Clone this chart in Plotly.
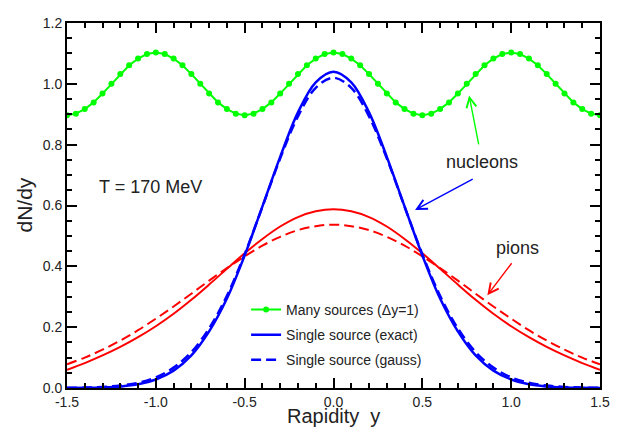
import plotly.graph_objects as go

# ---------------- data ----------------
# rapidity grid of the "many sources" curve (step 0.05)
y_many = [-1.50, -1.45, -1.40, -1.35, -1.30, -1.25, -1.20, -1.15, -1.10, -1.05,
          -1.00, -0.95, -0.90, -0.85, -0.80, -0.75, -0.70, -0.65, -0.60, -0.55,
          -0.50, -0.45, -0.40, -0.35, -0.30, -0.25, -0.20, -0.15, -0.10, -0.05,
          0.00, 0.05, 0.10, 0.15, 0.20, 0.25, 0.30, 0.35, 0.40, 0.45,
          0.50, 0.55, 0.60, 0.65, 0.70, 0.75, 0.80, 0.85, 0.90, 0.95,
          1.00, 1.05, 1.10, 1.15, 1.20, 1.25, 1.30, 1.35, 1.40, 1.45, 1.50]
dndy_many = [0.897, 0.902, 0.917, 0.939, 0.968, 1.000, 1.032, 1.061, 1.083, 1.098,
             1.103, 1.098, 1.083, 1.061, 1.032, 1.000, 0.968, 0.939, 0.917, 0.902,
             0.897, 0.902, 0.917, 0.939, 0.968, 1.000, 1.032, 1.061, 1.083, 1.098,
             1.103, 1.098, 1.083, 1.061, 1.032, 1.000, 0.968, 0.939, 0.917, 0.902,
             0.897, 0.902, 0.917, 0.939, 0.968, 1.000, 1.032, 1.061, 1.083, 1.098,
             1.103, 1.098, 1.083, 1.061, 1.032, 1.000, 0.968, 0.939, 0.917, 0.902, 0.897]

# rapidity grid of the single-source curves (step 0.1)
y_single = [-1.5, -1.4, -1.3, -1.2, -1.1, -1.0, -0.9, -0.8, -0.7, -0.6, -0.5, -0.4, -0.3, -0.2, -0.1,
            0.0, 0.1, 0.2, 0.3, 0.4, 0.5, 0.6, 0.7, 0.8, 0.9, 1.0, 1.1, 1.2, 1.3, 1.4, 1.5]

# nucleons, single source
nucl_exact = [0.0002, 0.0007, 0.002, 0.005, 0.012, 0.028, 0.057, 0.107, 0.186, 0.294, 0.436, 0.597, 0.760, 0.906, 1.005,
              1.040, 1.005, 0.906, 0.760, 0.597, 0.436, 0.294, 0.186, 0.107, 0.057, 0.028, 0.012, 0.005, 0.002, 0.0007, 0.0002]
nucl_gauss = [0.0005, 0.0013, 0.0034, 0.008, 0.017, 0.035, 0.067, 0.118, 0.196, 0.303, 0.440, 0.596, 0.755, 0.893, 0.987,
              1.020, 0.987, 0.893, 0.755, 0.596, 0.440, 0.303, 0.196, 0.118, 0.067, 0.035, 0.017, 0.008, 0.0034, 0.0013, 0.0005]

# pions, single source
pion_exact = [0.060, 0.082, 0.107, 0.135, 0.167, 0.203, 0.244, 0.290, 0.340, 0.392, 0.443, 0.490, 0.531, 0.562, 0.581,
              0.588, 0.581, 0.562, 0.531, 0.490, 0.443, 0.392, 0.340, 0.290, 0.244, 0.203, 0.167, 0.135, 0.107, 0.082, 0.060]
pion_gauss = [0.078, 0.100, 0.126, 0.156, 0.190, 0.228, 0.268, 0.310, 0.353, 0.394, 0.433, 0.468, 0.497, 0.519, 0.532,
              0.537, 0.532, 0.519, 0.497, 0.468, 0.433, 0.394, 0.353, 0.310, 0.268, 0.228, 0.190, 0.156, 0.126, 0.100, 0.078]

x_tickvals = [-1.5, -1.0, -0.5, 0.0, 0.5, 1.0, 1.5]
x_ticktext = ["-1.5", "-1.0", "-0.5", "0.0", "0.5", "1.0", "1.5"]
y_tickvals = [0.0, 0.2, 0.4, 0.6, 0.8, 1.0, 1.2]
y_ticktext = ["0.0", "0.2", "0.4", "0.6", "0.8", "1.0", "1.2"]

legend_names = ["Many sources (\u0394y=1)", "Single source (exact)", "Single source (gauss)"]

# ---------------- styling ----------------
FONT = "Liberation Sans, Arial, Helvetica, sans-serif"
GREEN = "#00ff00"
BLUE = "#0000ff"
RED = "#ff0000"
TXT = "#222222"

fig = go.Figure()

fig.add_trace(go.Scatter(
    x=y_many, y=dndy_many, mode="lines+markers", name=legend_names[0],
    line=dict(color=GREEN, width=2), marker=dict(color=GREEN, size=6),
    legendgroup="g1"))
fig.add_trace(go.Scatter(
    x=y_single, y=pion_exact, mode="lines", line=dict(color=RED, width=2, shape="spline"),
    showlegend=False))
fig.add_trace(go.Scatter(
    x=y_single, y=pion_gauss, mode="lines", line=dict(color=RED, width=2, shape="spline", dash="10px,5px"),
    showlegend=False))
fig.add_trace(go.Scatter(
    x=y_single, y=nucl_exact, mode="lines", name=legend_names[1],
    line=dict(color=BLUE, width=2.5, shape="spline"), legendgroup="g2"))
fig.add_trace(go.Scatter(
    x=y_single, y=nucl_gauss, mode="lines", name=legend_names[2],
    line=dict(color=BLUE, width=2.5, shape="spline", dash="10px,5px"), legendgroup="g3"))

axis_common = dict(
    showline=True, linecolor="black", linewidth=2, mirror="ticks",
    ticks="inside", ticklen=10, tickwidth=1.5, tickcolor="black",
    showgrid=False, zeroline=False, ticklabeloverflow="allow",
    tickfont=dict(family=FONT, size=14, color=TXT),
)

fig.update_xaxes(range=[-1.5, 1.5], tickmode="array", tickvals=x_tickvals, ticktext=x_ticktext,
                 minor=dict(ticks="inside", ticklen=5, tickwidth=1.5, tickcolor="black",
                            tickmode="linear", tick0=-1.5, dtick=0.1, showgrid=False),
                 **axis_common)
fig.update_yaxes(range=[0, 1.2], tickmode="array", tickvals=y_tickvals, ticktext=y_ticktext,
                 minor=dict(ticks="inside", ticklen=5, tickwidth=1.5, tickcolor="black",
                            tickmode="linear", tick0=0, dtick=0.05, showgrid=False),
                 **axis_common)

arrow_common = dict(text="", showarrow=True, axref="x", ayref="y", xref="x", yref="y",
                    arrowhead=5, arrowsize=1.4, arrowwidth=1.4)

# the page body adds an 8px offset, so the figure is 8px smaller on each axis
fig.update_layout(
    width=612, height=419,
    margin=dict(l=59, r=20, t=7, b=39),
    plot_bgcolor="white", paper_bgcolor="white",
    font=dict(family=FONT, color=TXT),
    legend=dict(x=0.336, y=0.258, xanchor="left", yanchor="top",
                bgcolor="rgba(0,0,0,0)", font=dict(family=FONT, size=14, color=TXT),
                itemwidth=30, tracegroupgap=4, traceorder="grouped"),
    annotations=[
        dict(text="T = 170 MeV", x=-1.331, y=0.662, xref="x", yref="y", xanchor="left",
             showarrow=False, font=dict(family=FONT, size=18, color=TXT)),
        dict(text="nucleons", x=0.833, y=0.742, xref="x", yref="y",
             showarrow=False, font=dict(family=FONT, size=18, color=TXT)),
        dict(text="pions", x=1.036, y=0.459, xref="x", yref="y",
             showarrow=False, font=dict(family=FONT, size=18, color=TXT)),
        dict(x=0.763, y=0.962, ax=0.819, ay=0.796, arrowcolor=GREEN, **arrow_common),
        dict(x=0.459, y=0.585, ax=0.792, ay=0.689, arrowcolor=BLUE, **arrow_common),
        dict(x=0.866, y=0.305, ax=1.009, ay=0.415, arrowcolor=RED, **arrow_common),
        dict(text="Rapidity  y", x=0.5, y=0, xref="paper", yref="paper", yanchor="middle",
             yshift=-28, showarrow=False, font=dict(family=FONT, size=20, color=TXT)),
        dict(text="dN/dy", x=0, y=0.5, xref="paper", yref="paper", xanchor="center",
             xshift=-43, textangle=-90, showarrow=False, font=dict(family=FONT, size=21, color=TXT)),
    ],
)

fig.write_html("out.html")
